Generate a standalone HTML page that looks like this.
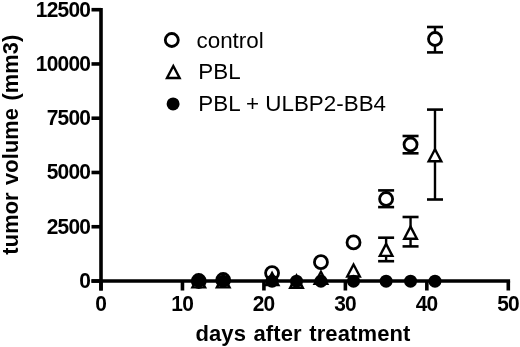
<!DOCTYPE html>
<html><head><meta charset="utf-8"><style>
html,body{margin:0;padding:0;background:#fff;}
body{width:520px;height:347px;overflow:hidden;}
svg{display:block;will-change:transform;}
.tl{font-family:"Liberation Sans",sans-serif;font-weight:bold;font-size:21.7px;letter-spacing:-0.8px;fill:#000;}
.at{font-family:"Liberation Sans",sans-serif;font-weight:bold;font-size:22px;word-spacing:1.2px;letter-spacing:0.12px;fill:#000;}
.lg{font-family:"Liberation Sans",sans-serif;font-size:22.4px;fill:#000;}
</style></head><body>
<svg width="520" height="347" viewBox="0 0 520 347">
<line x1="101.0" y1="8.10" x2="101.0" y2="290.50" stroke="#000" stroke-width="3.6"/>
<line x1="91.50" y1="281.0" x2="510.10" y2="281.0" stroke="#000" stroke-width="3.6"/>
<line x1="91.50" y1="281.00" x2="101.0" y2="281.00" stroke="#000" stroke-width="3.6"/>
<text transform="translate(90.2 288.00) scale(0.965 1)" text-anchor="end" class="tl">0</text>
<line x1="91.50" y1="226.74" x2="101.0" y2="226.74" stroke="#000" stroke-width="3.6"/>
<text transform="translate(90.2 233.74) scale(0.965 1)" text-anchor="end" class="tl">2500</text>
<line x1="91.50" y1="172.48" x2="101.0" y2="172.48" stroke="#000" stroke-width="3.6"/>
<text transform="translate(90.2 179.48) scale(0.965 1)" text-anchor="end" class="tl">5000</text>
<line x1="91.50" y1="118.22" x2="101.0" y2="118.22" stroke="#000" stroke-width="3.6"/>
<text transform="translate(90.2 125.22) scale(0.965 1)" text-anchor="end" class="tl">7500</text>
<line x1="91.50" y1="63.96" x2="101.0" y2="63.96" stroke="#000" stroke-width="3.6"/>
<text transform="translate(90.2 70.96) scale(0.965 1)" text-anchor="end" class="tl">10000</text>
<line x1="91.50" y1="9.70" x2="101.0" y2="9.70" stroke="#000" stroke-width="3.6"/>
<text transform="translate(90.2 16.70) scale(0.965 1)" text-anchor="end" class="tl">12500</text>
<line x1="101.00" y1="281.0" x2="101.00" y2="290.50" stroke="#000" stroke-width="3.6"/>
<text transform="translate(100.70 310.8) scale(0.965 1)" text-anchor="middle" class="tl">0</text>
<line x1="182.46" y1="281.0" x2="182.46" y2="290.50" stroke="#000" stroke-width="3.6"/>
<text transform="translate(182.16 310.8) scale(0.965 1)" text-anchor="middle" class="tl">10</text>
<line x1="263.92" y1="281.0" x2="263.92" y2="290.50" stroke="#000" stroke-width="3.6"/>
<text transform="translate(263.62 310.8) scale(0.965 1)" text-anchor="middle" class="tl">20</text>
<line x1="345.38" y1="281.0" x2="345.38" y2="290.50" stroke="#000" stroke-width="3.6"/>
<text transform="translate(345.08 310.8) scale(0.965 1)" text-anchor="middle" class="tl">30</text>
<line x1="426.84" y1="281.0" x2="426.84" y2="290.50" stroke="#000" stroke-width="3.6"/>
<text transform="translate(426.54 310.8) scale(0.965 1)" text-anchor="middle" class="tl">40</text>
<line x1="508.30" y1="281.0" x2="508.30" y2="290.50" stroke="#000" stroke-width="3.6"/>
<text transform="translate(508.00 310.8) scale(0.965 1)" text-anchor="middle" class="tl">50</text>
<text x="303" y="341" text-anchor="middle" class="at">days after treatment</text>
<text style="font-size:21.8px" transform="translate(18.3,144.6) rotate(-90)" x="0" y="0" text-anchor="middle" class="at">tumor volume (mm3)</text>
<line x1="386.11" y1="190.40" x2="386.11" y2="207.10" stroke="#000" stroke-width="2.4"/><line x1="378.11" y1="190.40" x2="394.11" y2="190.40" stroke="#000" stroke-width="2.6"/><line x1="378.11" y1="207.10" x2="394.11" y2="207.10" stroke="#000" stroke-width="2.6"/>
<line x1="410.55" y1="136.00" x2="410.55" y2="153.30" stroke="#000" stroke-width="2.4"/><line x1="402.55" y1="136.00" x2="418.55" y2="136.00" stroke="#000" stroke-width="2.6"/><line x1="402.55" y1="153.30" x2="418.55" y2="153.30" stroke="#000" stroke-width="2.6"/>
<line x1="434.99" y1="27.00" x2="434.99" y2="52.40" stroke="#000" stroke-width="2.4"/><line x1="426.99" y1="27.00" x2="442.99" y2="27.00" stroke="#000" stroke-width="2.6"/><line x1="426.99" y1="52.40" x2="442.99" y2="52.40" stroke="#000" stroke-width="2.6"/>
<line x1="386.11" y1="237.70" x2="386.11" y2="261.20" stroke="#000" stroke-width="2.4"/><line x1="378.11" y1="237.70" x2="394.11" y2="237.70" stroke="#000" stroke-width="2.6"/><line x1="378.11" y1="261.20" x2="394.11" y2="261.20" stroke="#000" stroke-width="2.6"/>
<line x1="410.55" y1="217.00" x2="410.55" y2="246.40" stroke="#000" stroke-width="2.4"/><line x1="402.55" y1="217.00" x2="418.55" y2="217.00" stroke="#000" stroke-width="2.6"/><line x1="402.55" y1="246.40" x2="418.55" y2="246.40" stroke="#000" stroke-width="2.6"/>
<line x1="434.99" y1="109.60" x2="434.99" y2="199.50" stroke="#000" stroke-width="2.4"/><line x1="426.99" y1="109.60" x2="442.99" y2="109.60" stroke="#000" stroke-width="2.6"/><line x1="426.99" y1="199.50" x2="442.99" y2="199.50" stroke="#000" stroke-width="2.6"/>
<circle cx="198.75" cy="281.00" r="6.5" fill="#fff" stroke="#000" stroke-width="2.8"/>
<circle cx="223.19" cy="280.00" r="6.5" fill="#fff" stroke="#000" stroke-width="2.8"/>
<circle cx="272.07" cy="273.10" r="6.5" fill="#fff" stroke="#000" stroke-width="2.8"/>
<circle cx="320.94" cy="262.20" r="6.5" fill="#fff" stroke="#000" stroke-width="2.8"/>
<circle cx="353.53" cy="242.40" r="6.5" fill="#fff" stroke="#000" stroke-width="2.8"/>
<circle cx="386.11" cy="199.00" r="6.5" fill="#fff" stroke="#000" stroke-width="2.8"/>
<circle cx="410.55" cy="144.50" r="6.5" fill="#fff" stroke="#000" stroke-width="2.8"/>
<circle cx="434.99" cy="39.00" r="6.5" fill="#fff" stroke="#000" stroke-width="2.8"/>
<polygon points="198.75,272.80 207.05,288.60 190.45,288.60" fill="#000"/><polygon points="198.75,277.96 203.08,286.20 194.42,286.20" fill="#fff"/>
<polygon points="223.19,272.80 231.49,288.60 214.89,288.60" fill="#000"/><polygon points="223.19,277.96 227.52,286.20 218.86,286.20" fill="#fff"/>
<polygon points="272.07,270.40 280.37,286.20 263.77,286.20" fill="#000"/><polygon points="272.07,275.56 276.39,283.80 267.74,283.80" fill="#fff"/>
<polygon points="296.50,273.10 304.80,288.90 288.20,288.90" fill="#000"/><polygon points="296.50,278.26 300.83,286.50 292.18,286.50" fill="#fff"/>
<polygon points="320.94,269.20 329.24,285.00 312.64,285.00" fill="#000"/><polygon points="320.94,274.36 325.27,282.60 316.61,282.60" fill="#fff"/>
<polygon points="353.53,261.90 361.83,277.70 345.23,277.70" fill="#000"/><polygon points="353.53,267.06 357.85,275.30 349.20,275.30" fill="#fff"/>
<polygon points="386.11,241.30 394.41,257.10 377.81,257.10" fill="#000"/><polygon points="386.11,246.46 390.44,254.70 381.78,254.70" fill="#fff"/>
<polygon points="410.55,224.10 418.85,239.90 402.25,239.90" fill="#000"/><polygon points="410.55,229.26 414.88,237.50 406.22,237.50" fill="#fff"/>
<polygon points="434.99,146.70 443.29,162.50 426.69,162.50" fill="#000"/><polygon points="434.99,151.86 439.31,160.10 430.66,160.10" fill="#fff"/>
<circle cx="198.75" cy="281.20" r="6.5" fill="#000"/>
<circle cx="223.19" cy="281.20" r="6.5" fill="#000"/>
<circle cx="272.07" cy="281.20" r="6.5" fill="#000"/>
<circle cx="296.50" cy="281.20" r="6.5" fill="#000"/>
<circle cx="320.94" cy="281.20" r="6.5" fill="#000"/>
<circle cx="353.53" cy="281.20" r="6.5" fill="#000"/>
<circle cx="386.11" cy="281.20" r="6.5" fill="#000"/>
<circle cx="410.55" cy="281.20" r="6.5" fill="#000"/>
<circle cx="434.99" cy="281.20" r="6.5" fill="#000"/>
<circle cx="171.80" cy="40.00" r="6.5" fill="#fff" stroke="#000" stroke-width="2.8"/>
<polygon points="173.30,63.40 181.60,79.20 165.00,79.20" fill="#000"/><polygon points="173.30,68.56 177.63,76.80 168.97,76.80" fill="#fff"/>
<circle cx="173.10" cy="103.90" r="6.5" fill="#000"/>
<text x="196.5" y="47.6" class="lg">control</text>
<text transform="translate(198.3 78.9) scale(1 1.025)" class="lg">PBL</text>
<text transform="translate(198.3 111.3) scale(1 1.025)" class="lg">PBL + ULBP2-BB4</text>
</svg>
</body></html>
